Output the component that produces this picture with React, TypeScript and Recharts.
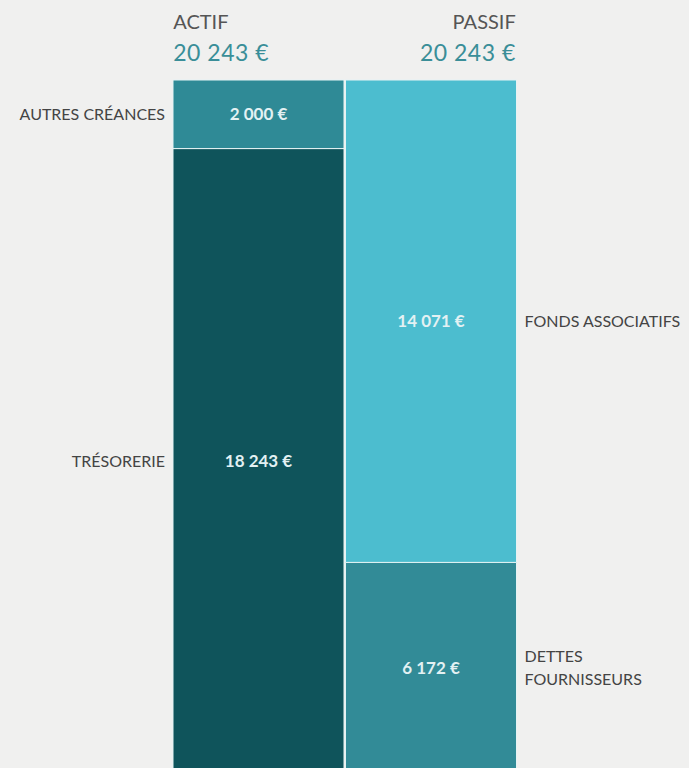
import { Bar, BarChart, Cell, LabelList, XAxis, YAxis } from "recharts";

// categories and values
const sides = ["ACTIF", "PASSIF"];
const bottomValues = [18243, 6172]; // trésorerie, dettes fournisseurs
const topValues = [2000, 14071]; // autres créances, fonds associatifs
const bottomNames = [["TRÉSORERIE"], ["DETTES", "FOURNISSEURS"]];
const topNames = [["AUTRES CRÉANCES"], ["FONDS ASSOCIATIFS"]];

const bottomColors = ["#0f545b", "#328b97"];
const topColors = ["#2f8a96", "#4cbdcf"];

const data = sides.map((name, i) => ({
  name,
  bottom: bottomValues[i],
  top: topValues[i],
  total: bottomValues[i] + topValues[i],
}));

const fmt = (v: number) =>
  `${v.toLocaleString("fr-FR").replace(/\s/g, " ")} €`;

const FONT = "Lato, 'Open Sans', sans-serif";

function HeaderTick(props: any) {
  const { x, payload, index } = props;
  const row = data[index];
  const half = 85;
  const left = index === 0;
  const tx = left ? x - half : x + half;
  const anchor = left ? "start" : "end";
  return (
    <g>
      <text x={tx} y={29} textAnchor={anchor} fontSize={20} fill="#555" fontFamily={FONT}>
        {payload.value}
      </text>
      <text
        x={tx}
        y={61}
        textAnchor={anchor}
        fontSize={23}
        letterSpacing={0.5}
        fill="#3a8e98"
        fontFamily={FONT}
      >
        {fmt(row.total)}
      </text>
    </g>
  );
}

function makeSideLabel(names: string[][]) {
  return (props: any) => {
    const { x, y, width, height, index } = props;
    const lines = names[index];
    const left = index === 0;
    const tx = left ? x - 8 : x + width + 8;
    const cy = y + height / 2;
    const lh = 23;
    const startY = cy - ((lines.length - 1) * lh) / 2;
    return (
      <text
        textAnchor={left ? "end" : "start"}
        fontSize={16}
        fill="#444"
        fontFamily={FONT}
      >
        {lines.map((l, k) => (
          <tspan key={k} x={tx} y={startY + k * lh} dy="0.35em">
            {l}
          </tspan>
        ))}
      </text>
    );
  };
}

const valueLabel = (props: any) => {
  const { x, y, width, height, value } = props;
  return (
    <text
      x={x + width / 2}
      y={y + height / 2}
      dy="0.35em"
      textAnchor="middle"
      fontSize={17}
      fontWeight={700}
      fill="#e3f1f3"
      fontFamily={FONT}
    >
      {fmt(value)}
    </text>
  );
};

export default function App() {
  return (
    <div
      style={{
        position: "fixed",
        left: 0,
        top: 0,
        width: 689,
        height: 768,
        overflow: "hidden",
        background: "#f0f0ef",
      }}
    >
      <BarChart
        width={689}
        height={774}
        data={data}
        margin={{ top: 0, right: 172, bottom: 0, left: 172 }}
        barCategoryGap={1}
      >
        <XAxis
          dataKey="name"
          orientation="top"
          height={80}
          axisLine={false}
          tickLine={false}
          tick={<HeaderTick />}
          interval={0}
        />
        <YAxis hide domain={[0, 20243]} />
        <Bar dataKey="bottom" stackId="s" isAnimationActive={false} stroke="#e6f3f4" strokeWidth={1}>
          {data.map((_, i) => (
            <Cell key={i} fill={bottomColors[i]} />
          ))}
          <LabelList dataKey="bottom" content={valueLabel} />
          <LabelList dataKey="bottom" content={makeSideLabel(bottomNames)} />
        </Bar>
        <Bar dataKey="top" stackId="s" isAnimationActive={false} stroke="#e6f3f4" strokeWidth={1}>
          {data.map((_, i) => (
            <Cell key={i} fill={topColors[i]} />
          ))}
          <LabelList dataKey="top" content={valueLabel} />
          <LabelList dataKey="top" content={makeSideLabel(topNames)} />
        </Bar>
      </BarChart>
    </div>
  );
}
